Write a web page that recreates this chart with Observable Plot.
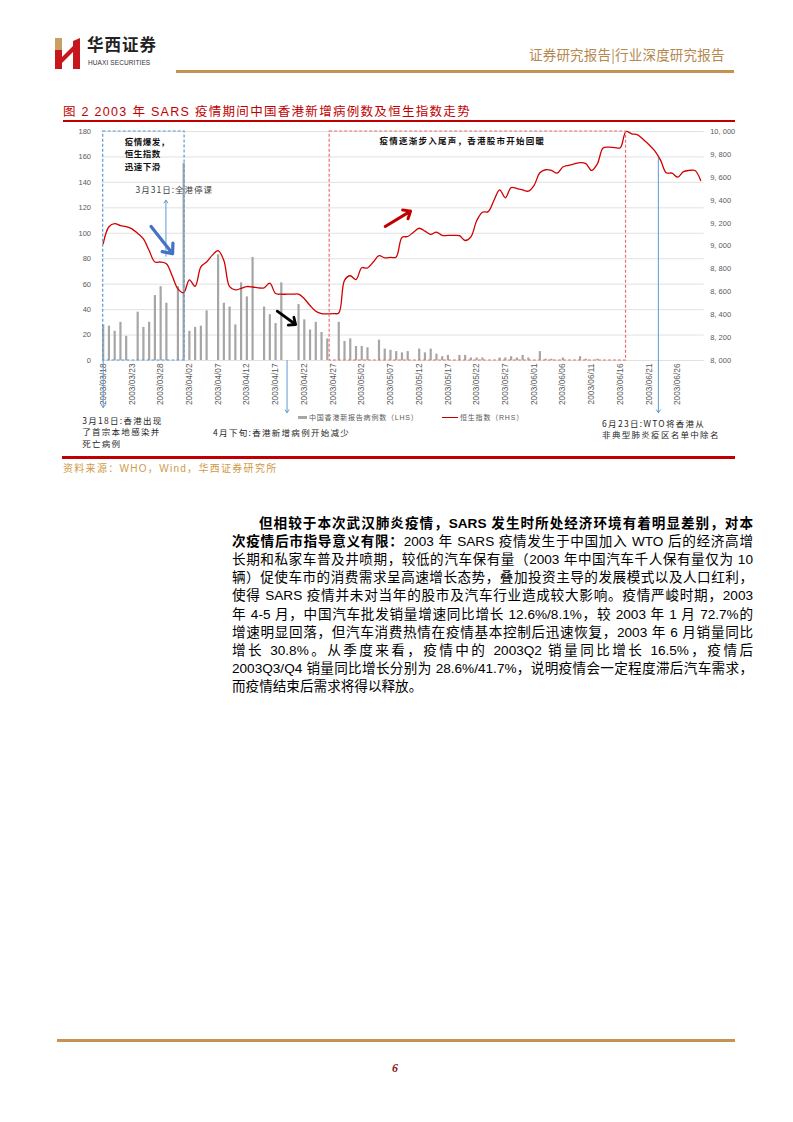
<!DOCTYPE html>
<html>
<head>
<meta charset="utf-8">
<script src="https://cdn.jsdelivr.net/npm/d3@7"></script>
<script src="https://cdn.jsdelivr.net/npm/@observablehq/plot@0.6"></script>
<style>
  body { margin: 0; background: #fff; }
  #page { position: relative; width: 793px; height: 1122px; overflow: hidden; background: #fff;
          font-family: "Liberation Sans", "Noto Sans CJK SC", sans-serif; color: #000; }
  .abs { position: absolute; white-space: nowrap; }
  .body-line { position: absolute; left: 232px; width: 521px; font-size: 13.6px; line-height: 18px;
               text-align: justify; text-align-last: justify; white-space: nowrap; }
  .body-line b { font-weight: 700; }
  #chart { position: absolute; left: 60px; top: 124px; }
  #chart svg { overflow: visible; }
  g[aria-description="ann-a"] text { letter-spacing: 0.5px; }
  g[aria-description="ann-b"] text { letter-spacing: 1px; }
  g[aria-description="ann-c"] text { letter-spacing: 1.25px; }
  g[aria-description="ann-d"] text { letter-spacing: 1.3px; }
</style>
</head>
<body>
<div id="page">
  <!-- header -->
  <svg class="abs" style="left:55px;top:38px" width="26" height="31" viewBox="0 0 26 31">
    <polygon points="0,0 7,0 7,12 0,12" fill="#C9A063"/>
    <polygon points="0,12 7,12 7,31 0,31" fill="#C8161D"/>
    <polygon points="7,19 18,8 18,14 7,25" fill="#C8161D"/>
    <polygon points="18,3 25,0 25,31 18,31" fill="#C8161D"/>
  </svg>
  <div class="abs" style="left:87px;top:33px;font-size:16.5px;line-height:22px;font-weight:700;letter-spacing:1px;color:#222;font-family:'Noto Sans CJK SC'">华西证券</div>
  <div class="abs" style="left:88px;top:59px;font-size:6.5px;line-height:8px;color:#333;letter-spacing:0.1px">HUAXI SECURITIES</div>
  <div class="abs" style="left:529px;top:44px;font-size:13.5px;color:#B4884F;letter-spacing:0.2px;font-family:'Noto Sans CJK SC'">证券研究报告|行业深度研究报告</div>
  <div class="abs" style="left:176px;top:70px;width:558px;height:2.5px;background:#C4934F"></div>

  <!-- figure title -->
  <div class="abs" style="left:63px;top:101px;font-size:12.5px;color:#C00000;letter-spacing:1.3px">图 2 2003 年 SARS 疫情期间中国香港新增病例数及恒生指数走势</div>
  <div class="abs" style="left:63px;top:120px;width:672px;height:2px;background:#C00000"></div>

  <div id="chart"></div>

  <!-- legend -->
  <div class="abs" style="left:298px;top:416px;width:9px;height:3px;background:#A6A6A6"></div>
  <div class="abs" style="left:309px;top:412px;font-size:7px;color:#595959;letter-spacing:0.8px">中国香港新报告病例数（LHS）</div>
  <div class="abs" style="left:442px;top:416.5px;width:16px;height:1.5px;background:#C00000"></div>
  <div class="abs" style="left:460px;top:412px;font-size:7px;color:#595959;letter-spacing:0.8px">恒生指数（RHS）</div>

  <div class="abs" style="left:62px;top:456px;width:673px;height:2.5px;background:#C00000"></div>
  <div class="abs" style="left:63px;top:460px;font-size:10px;color:#CF9A48;letter-spacing:1.3px">资料来源：WHO，Wind，华西证券研究所</div>

  <!-- body text -->
  <div id="body"></div>

  <!-- footer -->
  <div class="abs" style="left:57px;top:1039px;width:678px;height:2.5px;background:#C4934F"></div>
  <div class="abs" style="left:392px;top:1061px;font-size:12px;font-style:italic;font-weight:700;color:#8B1A1A;font-family:'Liberation Serif'">6</div>
</div>

<script>
// ---------------- data ----------------
const startDate = "2003-03-18";
const endDate = "2003-07-01"; // exclusive
const dates = d3.utcDay.range(new Date(startDate), new Date(endDate)); // 03/18 .. 06/30

// 中国香港新报告病例数 (LHS), one per calendar day
const newCases = [
  28, 27, 23, 30, 19, 0, 38, 26, 30, 51,
  58, 45, 0, 58, 155, 23, 26, 27, 39, 0,
  83, 45, 42, 28, 61, 50, 81, 0, 42, 36,
  29, 61, 0, 0, 44, 32, 24, 30, 22, 17,
  0, 30, 15, 17, 11, 11, 10, 0, 16, 9,
  8, 7, 6, 7, 0, 9, 6, 9, 5, 3,
  4, 0, 4, 4, 2, 2, 2, 0, 0, 2,
  2, 3, 2, 4, 2, 0, 7, 1, 1, 0,
  2, 0, 0, 3, 1, 0, 1, 0, 0, 0,
  0, 0, 0, 0, 0, 0, 0, 0, 0, 0,
  0, 0, 0, 0, 0
];

// 恒生指数 (RHS)
const hsi = [
  9020, 9168, 9195, 9178, 9170, 9150, 9110, 9062, 8960, 8860,
  8860, 8845, 8740, 8625, 8592, 8705, 8648, 8818, 8860, 8920,
  8960, 8873, 8645, 8617, 8630, 8646, 8642, 8634, 8635, 8675,
  8585, 8579, 8579, 8579, 8579, 8540, 8480, 8430, 8410, 8408,
  8410, 8415, 8700, 8740, 8707, 8810, 8808, 8860, 8915, 8897,
  8900, 8905, 9075, 9083, 9120, 9155, 9130, 9101, 9121, 9092,
  9092, 9092, 9090, 9048, 9080, 9220, 9295, 9300, 9397, 9490,
  9421, 9510, 9502, 9490, 9479, 9530, 9640, 9666, 9660, 9636,
  9690, 9705, 9718, 9728, 9720, 9660, 9717, 9855, 9863, 9860,
  9858, 10000, 9980, 9970, 9930, 9885, 9830, 9750, 9640, 9636,
  9601, 9650, 9660, 9659, 9572
];

const leftTicks = [0, 20, 40, 60, 80, 100, 120, 140, 160, 180];
const hsiTicks = [8000, 8200, 8400, 8600, 8800, 9000, 9200, 9400, 9600, 9800, 10000];
const xTicks = ["2003-03-18","2003-03-23","2003-03-28","2003-04-02","2003-04-07","2003-04-12",
  "2003-04-17","2003-04-22","2003-04-27","2003-05-02","2003-05-07","2003-05-12","2003-05-17",
  "2003-05-22","2003-05-27","2003-06-01","2003-06-06","2003-06-11","2003-06-16","2003-06-21","2003-06-26"];
const xDomain = ["2003-03-17T19:00Z", "2003-06-30T14:30Z"];

// annotation boxes (dates and left-axis units)
const boxFrom = ["2003-03-18T00:00Z", "2003-04-26T10:00Z"];
const boxTo = ["2003-04-01T04:00Z", "2003-06-17T00:00Z"];

// annotation texts
const noteBoxTexts = ["疫情爆发，\n恒生指数\n迅速下滑", "疫情逐渐步入尾声，香港股市开始回暖"];
const noteBoxDates = ["2003-03-21T18:00Z", "2003-05-05T02:00Z"];
const noteBoxValues = [176, 172.4];
const eventTexts = ["3月31日:全港停课", "3月18日:香港出现\n了首宗本地感染并\n死亡病例",
  "4月下旬:香港新增病例开始减少", "6月23日:WTO将香港从\n非典型肺炎疫区名单中除名"];
const eventDates = ["2003-03-23T15:00Z", "2003-03-14T08:00Z", "2003-04-06T03:00Z", "2003-06-12T20:00Z"];
const eventValues = [134.2, -43.5, -52.9, -45.5];

// event arrows (thin blue)
const eventArrowDates = ["2003-03-28T22:00Z", "2003-03-18T00:00Z", "2003-04-19T00:00Z", "2003-06-22T15:00Z"];
const eventArrowFrom = [82, 0, 0, 158.8];
const eventArrowTo = [126, -37, -41, -41];

// trend arrows
const trendFromDates = ["2003-03-26T08:00Z", "2003-04-17T07:00Z", "2003-05-06T02:00Z"];
const trendToDates = ["2003-03-30T02:00Z", "2003-04-20T12:00Z", "2003-05-10T12:00Z"];
const trendFromValues = [105.3, 38.8, 105.3];
const trendToValues = [83.9, 28.3, 117.4];

// ---------------- tables ----------------
const toLeft = v => (v - 8000) / 2000 * 180;
const fromLeft = y => 8000 + y / 180 * 2000;
const fmtHsi = v => d3.format(",")(v).replace(",", ", ");

const caseData = dates.map((d, i) => ({date: d, cases: newCases[i]})).filter(d => d.cases > 0);
const hsiData = dates.map((d, i) => ({date: d, y: toLeft(hsi[i])}));
const boxes = boxFrom.map((f, i) => ({x1: new Date(f), x2: new Date(boxTo[i]), y1: 0, y2: 180}));
const boxNotes = noteBoxTexts.map((t, i) => ({text: t, x: new Date(noteBoxDates[i]), y: noteBoxValues[i]}));
const events = eventTexts.map((t, i) => ({text: t, x: new Date(eventDates[i]), y: eventValues[i]}));
const eventArrows = eventArrowDates.map((d, i) => ({x: new Date(d), y1: eventArrowFrom[i], y2: eventArrowTo[i]}));
const trends = trendFromDates.map((d, i) => ({x1: new Date(d), x2: new Date(trendToDates[i]), y1: trendFromValues[i], y2: trendToValues[i]}));

const cjk = "'Noto Sans CJK SC', sans-serif";

const chart = Plot.plot({
  width: 700,
  height: 330,
  marginLeft: 41.5,
  marginRight: 56.3,
  marginTop: 7,
  marginBottom: 94,
  style: {fontFamily: "'Liberation Sans', 'Noto Sans CJK SC', sans-serif", background: "transparent", overflow: "visible"},
  x: {type: "utc", domain: xDomain.map(d => new Date(d)), label: null},
  y: {domain: [0, 180], label: null},
  marks: [
    Plot.gridY(leftTicks, {stroke: "#D9D9D9", strokeOpacity: 1, strokeWidth: 0.8}),
    Plot.axisY(leftTicks, {anchor: "left", tickSize: 0, tickPadding: 11, fontSize: 7.5, color: "#595959", label: null}),
    Plot.axisY(hsiTicks.map(toLeft), {anchor: "right", tickSize: 0, tickPadding: 6, fontSize: 7.5, color: "#595959", label: null,
      tickFormat: d => fmtHsi(Math.round(fromLeft(d)))}),
    Plot.axisX(xTicks.map(d => new Date(d)), {anchor: "bottom", tickSize: 0, tickPadding: 3, tickRotate: -90, fontSize: 8.3,
      color: "#595959", label: null, tickFormat: d3.utcFormat("%Y/%m/%d")}),
    Plot.ruleX(caseData, {x: "date", y1: 0, y2: "cases", stroke: "#A6A6A6", strokeWidth: 2.2}),
    Plot.line(hsiData, {x: "date", y: "y", stroke: "#D00000", strokeWidth: 1.3, curve: "catmull-rom"}),
    Plot.rect(boxes.slice(0, 1), {x1: "x1", x2: "x2", y1: "y1", y2: "y2", fill: "none", stroke: "#5B9BD5", strokeWidth: 1.2, strokeDasharray: "3,2"}),
    Plot.rect(boxes.slice(1), {x1: "x1", x2: "x2", y1: "y1", y2: "y2", fill: "none", stroke: "#E87070", strokeWidth: 1.2, strokeDasharray: "3,2"}),
    Plot.arrow(eventArrows, {x: "x", y1: "y1", y2: "y2", stroke: "#5B9BD5", strokeWidth: 1, headLength: 5, headAngle: 70}),
    Plot.arrow(trends.slice(0, 1), {x1: "x1", y1: "y1", x2: "x2", y2: "y2", stroke: "#4472C4", strokeWidth: 3.2, headLength: 5, headAngle: 80}),
    Plot.arrow(trends.slice(1, 2), {x1: "x1", y1: "y1", x2: "x2", y2: "y2", stroke: "#000000", strokeWidth: 2.8, headLength: 4, headAngle: 80}),
    Plot.arrow(trends.slice(2, 3), {x1: "x1", y1: "y1", x2: "x2", y2: "y2", stroke: "#C00000", strokeWidth: 3, headLength: 4, headAngle: 80}),
    Plot.text(boxNotes.slice(0, 1), {x: "x", y: "y", text: "text", textAnchor: "start", lineAnchor: "top", fontSize: 8.5,
      fontWeight: 600, lineHeight: 1.43, fill: "#111", fontFamily: cjk, ariaDescription: "ann-a"}),
    Plot.text(boxNotes.slice(1), {x: "x", y: "y", text: "text", textAnchor: "start", lineAnchor: "middle", fontSize: 8.5,
      fontWeight: 600, fill: "#111", fontFamily: cjk, ariaDescription: "ann-c"}),
    Plot.text(events.slice(0, 1), {x: "x", y: "y", text: "text", textAnchor: "start", lineAnchor: "middle", fontSize: 8.5,
      fill: "#404040", fontFamily: cjk, ariaDescription: "ann-b"}),
    Plot.text(events.slice(1), {x: "x", y: "y", text: "text", textAnchor: "start", lineAnchor: "top", fontSize: 8.5,
      lineHeight: 1.35, fill: "#262626", fontFamily: cjk, ariaDescription: "ann-d"})
  ]
});
document.getElementById("chart").appendChild(chart);

// ---------------- body text ----------------
const bodyLines = [
  ["但相较于本次武汉肺炎疫情，SARS 发生时所处经济环境有着明显差别，对本", ""],
  ["次疫情后市指导意义有限：", "2003 年 SARS 疫情发生于中国加入 WTO 后的经济高增"],
  ["", "长期和私家车普及井喷期，较低的汽车保有量（2003 年中国汽车千人保有量仅为 10"],
  ["", "辆）促使车市的消费需求呈高速增长态势，叠加投资主导的发展模式以及人口红利，"],
  ["", "使得 SARS 疫情并未对当年的股市及汽车行业造成较大影响。疫情严峻时期，2003"],
  ["", "年 4-5 月，中国汽车批发销量增速同比增长 12.6%/8.1%，较 2003 年 1 月 72.7%的"],
  ["", "增速明显回落，但汽车消费热情在疫情基本控制后迅速恢复，2003 年 6 月销量同比"],
  ["", "增长 30.8%。从季度来看，疫情中的 2003Q2 销量同比增长 16.5%，疫情后"],
  ["", "2003Q3/Q4 销量同比增长分别为 28.6%/41.7%，说明疫情会一定程度滞后汽车需求，"],
  ["", "而疫情结束后需求将得以释放。"]
];
const body = document.getElementById("body");
bodyLines.forEach(([b, n], i) => {
  const div = document.createElement("div");
  div.className = "body-line";
  div.style.top = (515 + i * 18.1) + "px";
  if (i === 0) { div.style.left = "259px"; div.style.width = "494px"; }
  if (i === bodyLines.length - 1) div.style.textAlignLast = "left";
  if (b) { const s = document.createElement("b"); s.textContent = b; div.appendChild(s); }
  if (n) div.appendChild(document.createTextNode(n));
  body.appendChild(div);
});
</script>
</body>
</html>
